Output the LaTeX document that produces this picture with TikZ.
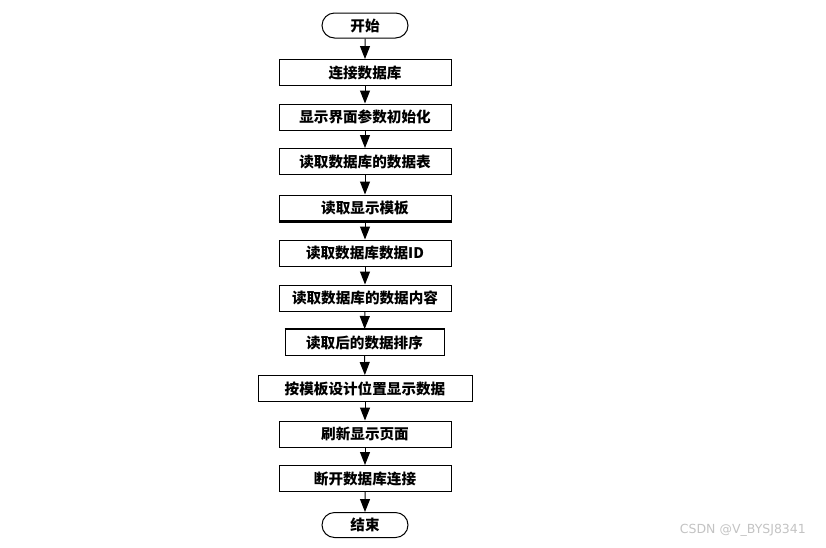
\documentclass[tikz,border=0pt]{standalone}
\usepackage{fontspec}
\newfontfamily\cjk{Noto Sans CJK SC}
\newfontfamily\wmfont{DejaVu Sans}
\usetikzlibrary{shapes.misc,arrows.meta}
\definecolor{wmgray}{RGB}{195,195,195}
\begin{document}
\begin{tikzpicture}[x=1pt,y=-1pt,
  every node/.style={font=\cjk\bfseries\fontsize{14.6}{16}\selectfont, inner sep=0pt},
  procbox/.style={draw, line width=1pt, minimum height=26pt, minimum width=172pt},
  termbox/.style={draw, line width=1pt, rounded rectangle, minimum height=25pt, minimum width=86pt},
  flow/.style={line width=1pt, -{Triangle[length=13pt,width=10pt]}}
]
\useasboundingbox (0,0) rectangle (826,547);
\node[termbox] (start) at (365,25.5) {开始};
\node[procbox] (b1) at (365,72.5) {连接数据库};
\node[procbox] (b2) at (365,117) {显示界面参数初始化};
\node[procbox] (b3) at (365,161.5) {读取数据库的数据表};
\node[procbox] (b4) at (365,208) {读取显示模板};
\node[procbox] (b5) at (365,253) {读取数据库数据ID};
\node[procbox] (b6) at (365,298) {读取数据库的数据内容};
\node[procbox, minimum width=159pt] (b7) at (364.5,342.5) {读取后的数据排序};
\node[procbox, minimum width=214pt] (b8) at (365,388.5) {按模板设计位置显示数据};
\node[procbox] (b9) at (365,434) {刷新显示页面};
\node[procbox] (b10) at (365,478.5) {断开数据库连接};
\node[termbox] (end) at (365,525) {结束};
% thick edges
\draw[line width=2.5pt] (b4.south west) -- (b4.south east);
\draw[line width=2.5pt] (b7.north west) -- (b7.north east);
% connectors
\draw[flow] (start) -- (b1);
\draw[flow] (b1) -- (b2);
\draw[flow] (b2) -- (b3);
\draw[flow] (b3) -- (b4);
\draw[flow] (b4) -- (b5);
\draw[flow] (b5) -- (b6);
\draw[flow] (b6) -- (b7);
\draw[flow] (b7) -- (b8);
\draw[flow] (b8) -- (b9);
\draw[flow] (b9) -- (b10);
\draw[flow] (b10) -- (end);
\node[font=\wmfont\fontsize{12.5}{14}\selectfont, text=wmgray, anchor=east] (wm) at (806,530) {CSDN @V\_BYSJ8341};
\end{tikzpicture}
\end{document}
